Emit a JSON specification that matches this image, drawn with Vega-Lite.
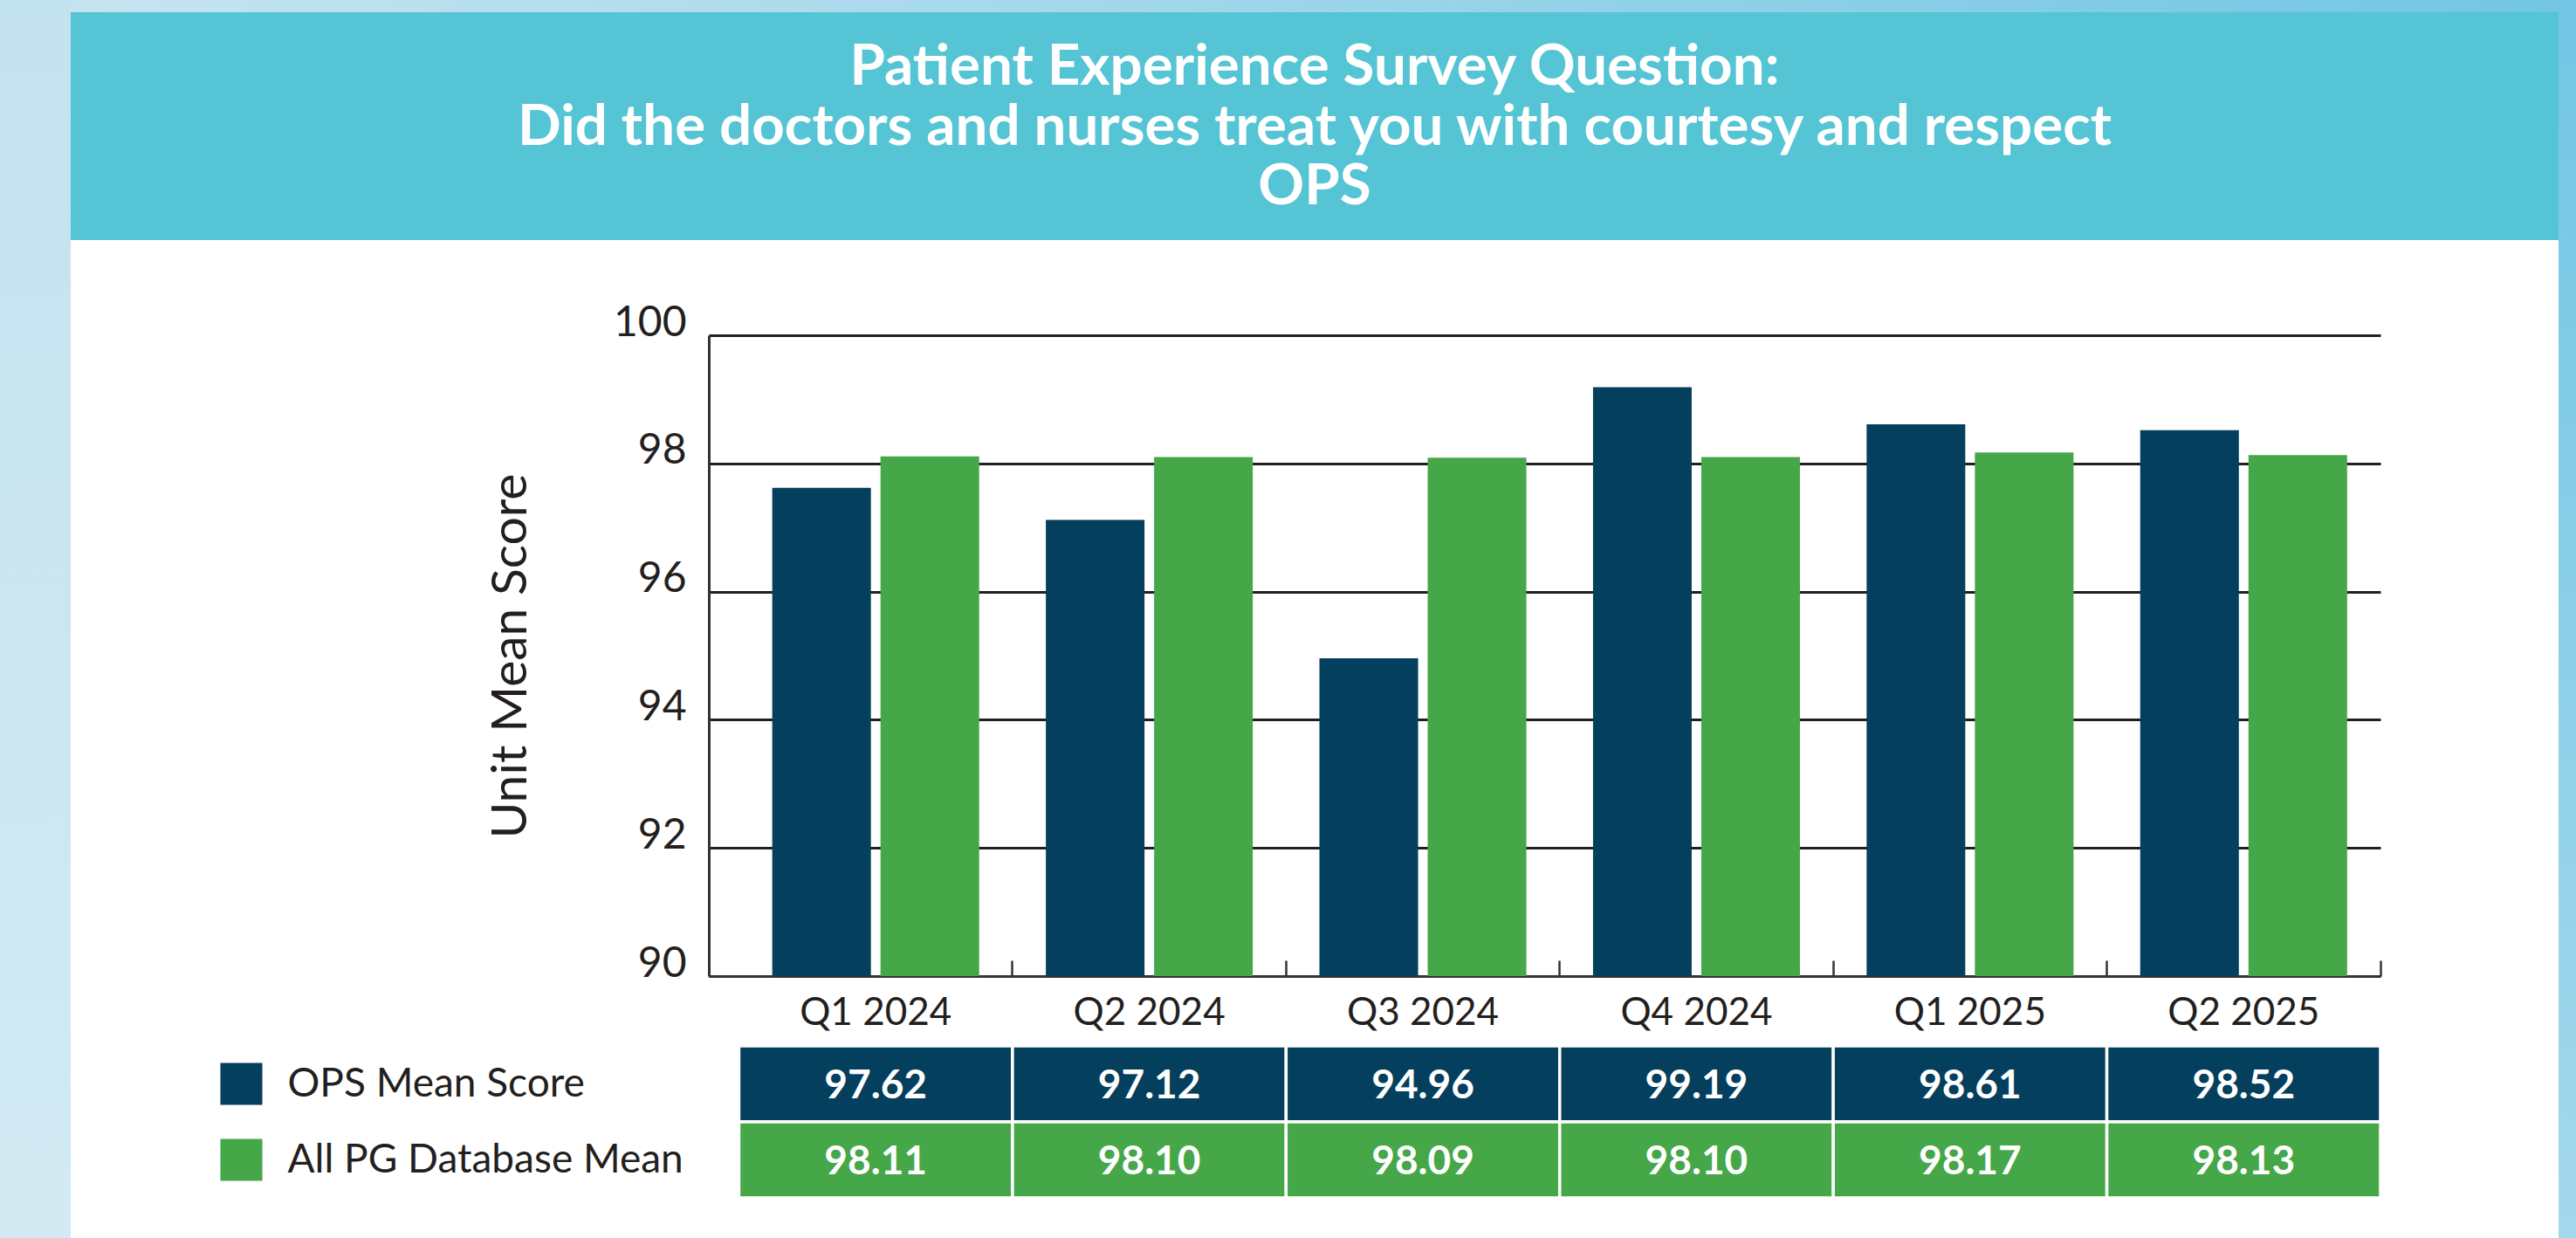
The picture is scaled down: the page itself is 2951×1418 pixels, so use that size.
{
  "$schema": "https://vega.github.io/schema/vega-lite/v6.json",
  "background": "white",
  "padding": 0,
  "autosize": {"type": "pad"},
  "spacing": 0,
  "config": {
    "view": {"stroke": null},
    "font": "Lato",
    "axis": {"labelFont": "Lato", "titleFont": "Lato"}
  },
  "datasets": {
    "scores": [
      {"quarter": "Q1 2024", "series": "OPS Mean Score", "value": 97.62},
      {"quarter": "Q1 2024", "series": "All PG Database Mean", "value": 98.11},
      {"quarter": "Q2 2024", "series": "OPS Mean Score", "value": 97.12},
      {"quarter": "Q2 2024", "series": "All PG Database Mean", "value": 98.10},
      {"quarter": "Q3 2024", "series": "OPS Mean Score", "value": 94.96},
      {"quarter": "Q3 2024", "series": "All PG Database Mean", "value": 98.09},
      {"quarter": "Q4 2024", "series": "OPS Mean Score", "value": 99.19},
      {"quarter": "Q4 2024", "series": "All PG Database Mean", "value": 98.10},
      {"quarter": "Q1 2025", "series": "OPS Mean Score", "value": 98.61},
      {"quarter": "Q1 2025", "series": "All PG Database Mean", "value": 98.17},
      {"quarter": "Q2 2025", "series": "OPS Mean Score", "value": 98.52},
      {"quarter": "Q2 2025", "series": "All PG Database Mean", "value": 98.13}
    ],
    "one": [{}],
    "header": [
      {"line": 1, "title": "Patient Experience Survey Question:"},
      {"line": 2, "title": "Did the doctors and nurses treat you with courtesy and respect"},
      {"line": 3, "title": "OPS"}
    ]
  },
  "hconcat": [
    {
      "width": 81, "height": 1418,
      "data": {"name": "one"},
      "mark": {"type": "rect", "color": {"gradient": "linear", "x1": 0, "y1": 0, "x2": 0, "y2": 1, "stops": [{"offset": 0, "color": "#c3e2ef"}, {"offset": 1, "color": "#d3eaf3"}]}},
      "encoding": {}
    },
    {
      "spacing": 71,
      "vconcat": [
        {
          "spacing": 0,
          "vconcat": [
            {
              "width": 2850, "height": 14,
              "data": {"name": "one"},
              "mark": {"type": "rect", "color": {"gradient": "linear", "x1": 0, "y1": 0, "x2": 1, "y2": 0, "stops": [{"offset": 0, "color": "#c6e4f0"}, {"offset": 1, "color": "#72c6e4"}]}},
              "encoding": {}
            },
            {
              "width": 2850, "height": 261,
              "view": {"fill": "#55c4d4", "stroke": null},
              "data": {"name": "header"},
              "mark": {"type": "text", "font": "Lato", "fontSize": 65.5, "fontWeight": "bold", "color": "white", "baseline": "middle", "align": "center", "dy": 1},
              "encoding": {
                "y": {"field": "line", "type": "ordinal", "axis": null, "scale": {"type": "point", "padding": 0.905}},
                "text": {"field": "title", "type": "nominal"}
              }
            }
          ]
        },
        {
          "spacing": 0,
          "hconcat": [
            {
              "width": 147, "height": 10,
              "data": {"values": []},
              "mark": "rect"
            },
            {
              "spacing": 14,
              "vconcat": [
                {
                  "width": 1915, "height": 734,
                  "data": {"name": "scores"},
                  "mark": {"type": "bar"},
                  "encoding": {
                    "x": {
                      "field": "quarter", "type": "nominal", "sort": null,
                      "scale": {"paddingInner": 0, "paddingOuter": 0.055, "align": 1},
                      "axis": {
                        "orient": "bottom", "title": null, "labelAngle": 0,
                        "domain": true, "domainColor": "#333333", "domainWidth": 3,
                        "ticks": true, "tickSize": -18, "tickWidth": 2.5, "tickColor": "#333333",
                        "bandPosition": 1, "labelPadding": 38,
                        "labelFontSize": 44, "labelColor": "#231f20", "labelBaseline": "top", "grid": false
                      }
                    },
                    "xOffset": {
                      "field": "series", "type": "nominal",
                      "scale": {"domain": ["OPS Mean Score", "All PG Database Mean"], "paddingInner": 0.0887, "paddingOuter": 0.308}
                    },
                    "y": {
                      "field": "value", "type": "quantitative",
                      "scale": {"domain": [90, 100], "zero": false, "nice": false},
                      "axis": {
                        "values": [90, 92, 94, 96, 98, 100],
                        "grid": true, "gridColor": "#231f20", "gridWidth": 3,
                        "domain": true, "domainColor": "#333333", "domainWidth": 3,
                        "ticks": false, "labelPadding": 26, "labelFontSize": 48,
                        "labelColor": "#231f20", "labelBaseline": "alphabetic",
                        "title": "Unit Mean Score", "titleFontSize": 57, "titleFontWeight": "normal",
                        "titleColor": "#231f20", "titlePadding": 88
                      }
                    },
                    "y2": {"datum": 90},
                    "color": {
                      "field": "series", "type": "nominal",
                      "scale": {"domain": ["OPS Mean Score", "All PG Database Mean"], "range": ["#043f5e", "#45a748"]},
                      "legend": null
                    }
                  }
                },
                {
                  "width": 1915, "height": 174,
                  "data": {"name": "scores"},
                  "encoding": {
                    "x": {
                      "field": "quarter", "type": "nominal", "sort": null,
                      "scale": {"paddingInner": 0, "paddingOuter": 0.055, "align": 1},
                      "axis": null
                    },
                    "y": {
                      "field": "series", "type": "nominal",
                      "scale": {"domain": ["OPS Mean Score", "All PG Database Mean"], "paddingInner": 0, "paddingOuter": 0},
                      "axis": {
                        "orient": "left", "title": null, "domain": false, "grid": false,
                        "ticks": true, "offset": 512, "tickSize": 48, "tickWidth": 48,
                        "tickColor": {"condition": {"test": "datum.value === 'OPS Mean Score'", "value": "#043f5e"}, "value": "#45a748"},
                        "labelAlign": "left", "labelPadding": -77, "labelFontSize": 46, "labelLimit": 0,
                        "labelColor": "#231f20", "labelBaseline": "middle"
                      }
                    }
                  },
                  "layer": [
                    {
                      "mark": {"type": "rect", "stroke": "white", "strokeWidth": 3.5},
                      "encoding": {
                        "color": {
                          "field": "series", "type": "nominal",
                          "scale": {"domain": ["OPS Mean Score", "All PG Database Mean"], "range": ["#043f5e", "#45a748"]},
                          "legend": null
                        }
                      }
                    },
                    {
                      "mark": {"type": "text", "color": "white", "font": "Lato", "fontSize": 46, "fontWeight": "bold", "baseline": "middle", "dy": 2},
                      "encoding": {"text": {"field": "value", "type": "quantitative", "format": ".2f"}}
                    }
                  ]
                }
              ]
            }
          ]
        }
      ]
    },
    {
      "width": 20, "height": 1418,
      "data": {"name": "one"},
      "mark": {"type": "rect", "color": {"gradient": "linear", "x1": 0, "y1": 0, "x2": 0, "y2": 1, "stops": [{"offset": 0, "color": "#72c6e4"}, {"offset": 1, "color": "#a4d8ec"}]}},
      "encoding": {}
    }
  ]
}
